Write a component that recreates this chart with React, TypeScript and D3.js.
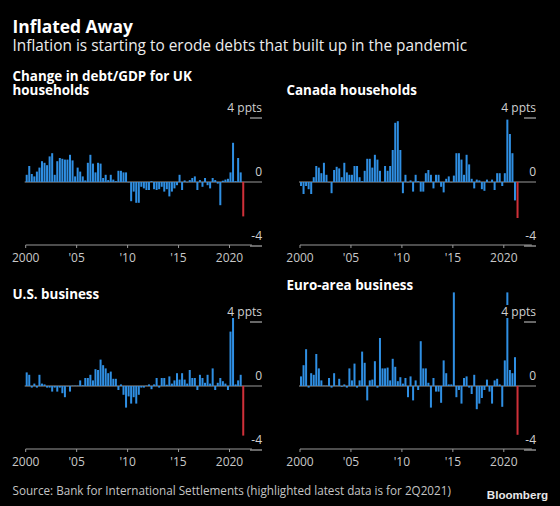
import React from 'react';
import * as d3 from 'd3';

// Quarterly change in debt/GDP (ppts), 2000Q1 .. 2021Q2
const quarters: number[] = d3.range(86).map((i) => 2000 + i / 4);

const ukValues = [
  0.45, 1.0, 0.5, 0.35,
  0.65, 0.9, 1.3, 1.2,
  1.05, 1.6, 1.8, 0.45,
  1.3, 1.5, 1.45, 1.4,
  1.4, 1.7, 1.35, 0.35,
  0.9, 0.65, 0.35, 0.1,
  1.2, 1.7, 1.15, 0.6,
  1.2, 1.15, 0.25, 0.45,
  0.12, 0.45, 0.15, 0.05,
  0.7, 0.7, 0.6, 0.6,
  0.0, -1.2, -0.6, -1.3,
  -1.3, -0.3, -0.4, -0.5,
  -0.5, 0.05, -0.45, -0.5,
  -0.45, -0.3, -0.6, -0.45,
  -0.9, -0.6, -0.4, -0.2,
  0.45, -0.5, 0.1, 0.0,
  0.12, 0.25, 0.35, -0.5,
  0.12, -0.3, 0.25, -0.2,
  -0.4, 0.25, 0.12, -0.1,
  -1.45, 0.08, 0.15, 0.2,
  0.6, 2.45, 0.05, 1.5,
  0.6, -2.15,
];

const canadaValues = [
  -0.25, -0.75, -0.25, -0.45,
  -0.75, 0.3, 1.0, 0.9,
  0.55, 1.2, 0.45, 0.0,
  -0.7, 0.75, 0.95, 0.85,
  0.3, 1.2, 0.6, 0.45,
  0.45, 1.0, 1.0, 0.3,
  0.05, 0.7, 1.45, 1.45,
  0.9, 1.7, 1.4, 0.7,
  0.0, 1.0, 0.7, 1.0,
  2.0, 3.7, 3.8, 2.0,
  -0.7, 0.45, 0.0, 0.1,
  -0.6, 0.45, 0.05, -0.6,
  -0.6, 0.55, 0.75, 0.45,
  -0.4, 0.45, 0.45, -0.3,
  -0.65, 0.2, 0.35, 0.0,
  0.4, 1.8, 1.8, 1.4,
  0.45, 1.7, 1.1, 0.2,
  -0.4, 0.15, 0.1, -0.45,
  -0.55, 0.15, 0.0, 0.15,
  -0.5, 0.55, 0.55, -0.25,
  0.55, 3.9, 3.0, 1.8,
  -1.15, -2.25,
];

const usValues = [
  0.85, 0.7, -0.1, 0.15,
  -0.1, 0.7, 0.15, 0.1,
  -0.1, -0.1, -0.35, -0.1,
  -0.35, -0.1, -0.45, -0.7,
  0.0, -0.35, 0.02, 0.02,
  0.02, 0.35, 0.05, 0.5,
  0.5, 0.7, 0.35, 1.05,
  1.0, 1.65, 1.3, 1.1,
  0.8, 0.9, 0.45, 0.45,
  -0.25, 0.1, -0.55, -1.35,
  -0.65, -1.1, -0.7, -1.1,
  -0.55, -0.1, -0.1, 0.02,
  0.1, -0.2, 0.1, 0.5,
  -0.1, 0.5, 0.5, 0.08,
  0.6, 0.15, 0.35, 0.8,
  0.4, 0.8, 0.4, 0.15,
  1.0, 0.5, 0.5, -0.25,
  0.7, 0.5, 0.2, 0.7,
  0.15, 1.1, -0.25, 0.2,
  0.5, 0.3, 0.15, -0.25,
  3.4, 4.4, 0.1, 0.35,
  0.7, -3.1,
];

const euroValues = [
  0.6, 1.3, 2.3, -0.1,
  0.8, 0.7, 2.0, 1.1,
  0.35, 0.02, 0.02, 0.5,
  -0.1, 0.8, 0.02, 0.45,
  -0.05, 0.1, -0.1, 1.1,
  0.35, 1.4, -0.1, 0.35,
  2.15, 1.45, -0.9, 0.35,
  0.4, 1.55, -0.1, 3.0,
  1.1, 1.1, 1.15, 0.35,
  1.7, 1.2, 0.3, 0.55,
  0.15, 0.5, -0.7, 0.6,
  -0.9, 0.35, -0.25, 2.8,
  1.1, 1.1, 0.2, -1.35,
  0.5, -0.35, -0.35, -1.05,
  1.6, 0.8, 0.1, 0.1,
  5.85, -0.7, -0.25, -1.1,
  0.5, 0.6, -0.1, -0.5,
  0.7, -1.45, -1.1, -0.75,
  -0.25, 0.4, -0.35, -1.1,
  0.35, 0.45, 0.1, -1.3,
  1.6, 5.85, 1.0, 0.8,
  1.8, -3.05,
];

const xTickYears = [2000, 2005, 2010, 2015, 2020];
const xTickLabels = ['2000', "'05", "'10", "'15", '2020'];
const yTickValues = [4, 0, -4];
const yTickLabels = ['4 ppts', '0', '-4'];

const FONT = "'Open Sans', 'Noto Sans', sans-serif";
const BLUE = '#2f8fe3';
const RED = '#cf3039';

type PanelProps = {
  values: number[];
  title: string[];
  titleX: number;
  titleY: number;
  x0: number;
  zero: number;
  axisEndYear: number;
  right: number;
};

function Panel({ values, title, titleX, titleY, x0, zero, axisEndYear, right }: PanelProps) {
  const x = d3.scaleLinear().domain([2000, 2020]).range([x0, x0 + 203.8]);
  const y = d3.scaleLinear().domain([-4, 4]).range([zero + 64, zero - 64]);
  const bw = 2;
  const axisY = zero + 63;
  return (
    <g>
      {title.map((t, i) => (
        <text key={t} x={titleX} y={titleY + i * 14} fill="#fff" fontFamily={FONT}
          fontWeight={700} fontSize={13.4}>{t}</text>
      ))}
      <line x1={x0 - 1} x2={right} y1={y(0)} y2={y(0)} stroke="#9a9a9a" strokeWidth={1} />
      {values.map((v, i) => {
        const yy = Math.min(y(v), y(0));
        const h = Math.abs(y(v) - y(0));
        return (
          <rect key={i} x={x(quarters[i])} y={yy} width={bw} height={Math.max(h, 0.3)}
            fill={i === values.length - 1 ? RED : BLUE} />
        );
      })}
      {yTickValues.map((t, i) => (
        <g key={t}>
          {t !== 0 && (
            <line x1={right - 12} x2={right} y1={y(t)} y2={y(t)} stroke="#cfcfcf" strokeWidth={1} />
          )}
          {t === 4 && (
            <rect x={right - 36} y={y(t) - 17} width={36} height={13} fill="#000" />
          )}
          <text x={right} y={y(t) - 6.5} textAnchor="end" fill="#d0d0d0"
            fontFamily={FONT} fontSize={12}>{yTickLabels[i]}</text>
        </g>
      ))}
      <line x1={x(2000)} x2={x(axisEndYear)} y1={axisY} y2={axisY} stroke="#9a9a9a" strokeWidth={1} />
      {xTickYears.map((yr, i) => (
        <g key={yr}>
          <line x1={x(yr)} x2={x(yr)} y1={axisY} y2={axisY + 3} stroke="#9a9a9a" strokeWidth={1} />
          <text x={x(yr)} y={axisY + 16.5} textAnchor="middle" fill="#c8c8c8"
            fontFamily={FONT} fontSize={12}>{xTickLabels[i]}</text>
        </g>
      ))}
    </g>
  );
}

export default function App() {
  return (
    <svg width={560} height={506} style={{ position: 'absolute', left: 0, top: 0, display: 'block' }}>
      <rect x={0} y={0} width={560} height={506} fill="#000" />
      <text x={12.5} y={33} fill="#fff" fontFamily={FONT} fontWeight={700} fontSize={17.4}>Inflated Away</text>
      <text x={12.5} y={50.5} fill="#ececec" fontFamily={FONT} fontSize={15.4}>
        Inflation is starting to erode debts that built up in the pandemic
      </text>

      <Panel values={ukValues} title={['Change in debt/GDP for UK', 'households']}
        titleX={12.5} titleY={80.5} x0={25.7} zero={182} axisEndYear={2022.2} right={262} />
      <Panel values={canadaValues} title={['Canada households']}
        titleX={286.5} titleY={94.5} x0={300} zero={182} axisEndYear={2022.75} right={536} />
      <Panel values={usValues} title={['U.S. business']}
        titleX={12.5} titleY={298.5} x0={25.7} zero={386} axisEndYear={2022.2} right={262} />
      <Panel values={euroValues} title={['Euro-area business']}
        titleX={286.5} titleY={289.5} x0={300} zero={386} axisEndYear={2022.75} right={536} />

      <text x={12.5} y={495} fill="#c4c4c4" fontFamily={FONT} fontSize={11.7}>
        Source: Bank for International Settlements (highlighted latest data is for 2Q2021)
      </text>
      <text x={548} y={498.5} textAnchor="end" fill="#e8e8e8" fontFamily="'Liberation Sans', Arial, sans-serif"
        fontWeight={700} fontSize={11.6}>Bloomberg</text>
    </svg>
  );
}
